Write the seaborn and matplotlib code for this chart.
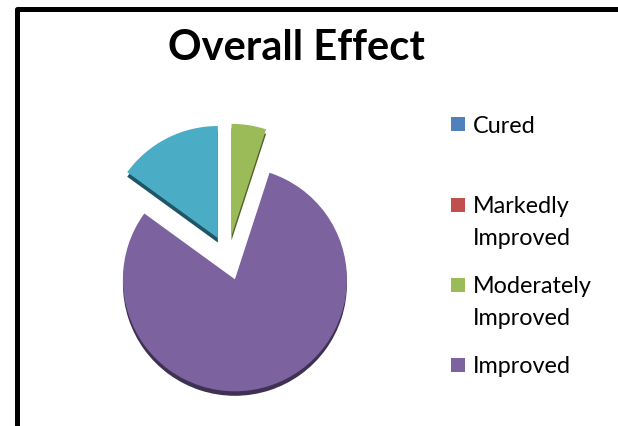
import matplotlib
matplotlib.use("Agg")
import matplotlib.pyplot as plt
import seaborn as sns
from matplotlib.patches import Rectangle
from matplotlib.lines import Line2D

sns.set_theme(style="white")
plt.rcParams['font.family'] = ['Lato', 'DejaVu Sans']

# ---- data ----
categories = ["Cured", "Markedly\nImproved", "Moderately\nImproved", "Improved", "Not Improved"]
values = [0, 0, 5, 80, 15]
colors = ["#4F81BD", "#C0504D", "#9BBB59", "#7D62A0", "#4BACC6"]
dark_colors = ["#2C4D75", "#772C2A", "#4F6228", "#3F3151", "#1F5565"]
legend_count = 4
title = "Overall Effect"

W, H = 618, 427
fig = plt.figure(figsize=(W / 100, H / 100), dpi=100)
fig.patch.set_facecolor("white")

def fx(px):
    return px / W

def fy(py):
    return 1 - py / H

# pie axes: 1 data unit = R pixels
R = 112.0
cx, cy = 228.0, 259.0
ax = fig.add_axes([0, 0, 1, 1])

nz = [i for i, v in enumerate(values) if v > 0]
pv = [values[i] for i in nz]
pc = [colors[i] for i in nz]
pd = [dark_colors[i] for i in nz]
explode = [0.2] * len(pv)

# depth (side) layer
ax.pie(pv, colors=pd, explode=explode, startangle=90, counterclock=False,
       radius=1.0, center=(0, -4.5 / R), frame=True,
       wedgeprops=dict(linewidth=0))
# top layer
ax.pie(pv, colors=pc, explode=explode, startangle=90, counterclock=False,
       radius=1.0, center=(0, 0), frame=True,
       wedgeprops=dict(linewidth=0))
ax.set_xlim(-cx / R, (W - cx) / R)
ax.set_ylim(-(H - cy) / R, cy / R)
ax.set_aspect("auto")
ax.axis("off")

# frame border (extends beyond right/bottom)
fig.add_artist(Line2D([fx(16.5), fx(16.5), fx(W + 10)],
                      [fy(H + 10), fy(9.7), fy(9.7)],
                      transform=fig.transFigure, color="black",
                      linewidth=3.6, solid_joinstyle="round"))

# title
fig.text(fx(296), fy(60), title, ha="center", va="baseline",
         fontsize=30, fontweight="bold", color="black")

# legend (manual)
sq_y = [125, 206, 286, 366]
first_baselines = [133, 213, 293, 373]
line_gap = 32
for i in range(legend_count):
    fig.add_artist(Rectangle((fx(451), fy(sq_y[i] + 7)), fx(14), 14 / H,
                             transform=fig.transFigure, facecolor=colors[i],
                             edgecolor="none"))
    for j, line in enumerate(categories[i].split("\n")):
        fig.text(fx(473), fy(first_baselines[i] + j * line_gap), line,
                 ha="left", va="baseline", fontsize=16.8, color="black")

fig.savefig("out.png", dpi=100, facecolor="white")
